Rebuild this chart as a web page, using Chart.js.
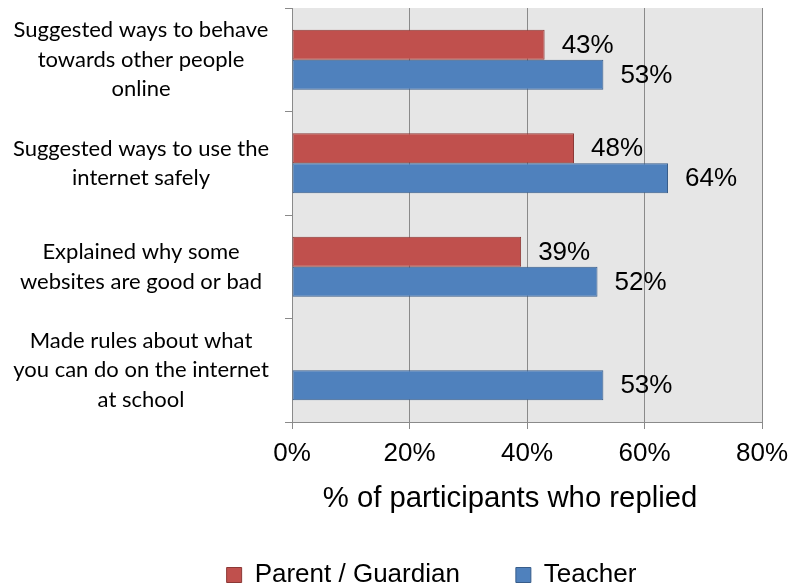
<!DOCTYPE html>
<html>
<head>
<meta charset="utf-8">
<script src="https://cdn.jsdelivr.net/npm/chart.js@4/dist/chart.umd.min.js"></script>
<style>
  html, body { margin: 0; padding: 0; background: #ffffff; }
  canvas { display: block; }
</style>
</head>
<body>
<canvas id="chart" width="792" height="586"></canvas>
<script>
// ---- Data ----
const categories = [
  ["Suggested ways to behave", "towards other people", "online"],
  ["Suggested ways to use the", "internet safely"],
  ["Explained why some", "websites are good or bad"],
  ["Made rules about what", "you can do on the internet", "at school"]
];
const seriesNames = ["Parent / Guardian", "Teacher"];
const parentValues = [43, 48, 39, null];
const teacherValues = [53, 64, 52, 53];
const xTickValues = [0, 20, 40, 60, 80];

// ---- Styles ----
const GRID = '#8a8a8a';
const PLOT_BG = '#e6e6e6';
const SANS = '"Liberation Sans", Arial, sans-serif';
const CAT_FONT = 'Lato, "Open Sans", sans-serif';

// fit category label font so the widest line is about 256px wide
const mctx = document.createElement('canvas').getContext('2d');
mctx.font = '100px ' + CAT_FONT;
let widest100 = 0;
categories.forEach(lines => lines.forEach(l => { widest100 = Math.max(widest100, mctx.measureText(l).width); }));
const catSize = Math.round(100 * 256 / widest100 * 10) / 10;
const catWidest = widest100 * catSize / 100;
const Y_AXIS_RIGHT = 292, Y_TICK_LEN = 7;
const catPadding = Math.max(0, (Y_AXIS_RIGHT - 141) - Y_TICK_LEN - catWidest / 2);
const LEGEND_LEFT = 101;
const TITLE_SHIFT = -17;

const plotBackground = {
  id: 'plotBackground',
  beforeDraw(chart) {
    const {ctx, chartArea: a} = chart;
    ctx.save();
    ctx.fillStyle = PLOT_BG;
    ctx.fillRect(a.left, a.top, a.right - a.left, a.bottom - a.top);
    ctx.restore();
  }
};

// move the legend box and the x-axis title to where the reference places them
const placementTweaks = {
  id: 'placementTweaks',
  afterLayout(chart) {
    const lg = chart.legend;
    if (lg) {
      lg.left = LEGEND_LEFT;
      lg.width = lg.right - lg.left;
    }
    const sx = chart.scales.x;
    if (sx && !sx._titlePatched) {
      const orig = sx.drawTitle;
      sx.drawTitle = function () {
        const ctx = this.ctx;
        ctx.save();
        ctx.translate(TITLE_SHIFT, 0);
        orig.call(this);
        ctx.restore();
      };
      sx._titlePatched = true;
    }
  }
};

const valueLabels = {
  id: 'valueLabels',
  afterDatasetsDraw(chart) {
    const {ctx} = chart;
    ctx.save();
    ctx.font = '26px ' + SANS;
    ctx.fillStyle = '#000000';
    ctx.textAlign = 'left';
    ctx.textBaseline = 'middle';
    chart.data.datasets.forEach((ds, di) => {
      const meta = chart.getDatasetMeta(di);
      meta.data.forEach((el, i) => {
        const v = ds.data[i];
        if (v === null || v === undefined) return;
        ctx.fillText(v + '%', el.x + 17, el.y + 1);
      });
    });
    ctx.restore();
  }
};

new Chart(document.getElementById('chart'), {
  type: 'bar',
  data: {
    labels: categories,
    datasets: [
      {
        label: seriesNames[0],
        data: parentValues,
        backgroundColor: '#c0504d',
        borderColor: '#8c3836',
        borderWidth: 1,
        borderSkipped: false
      },
      {
        label: seriesNames[1],
        data: teacherValues,
        backgroundColor: '#4f81bd',
        borderColor: '#385d8a',
        borderWidth: 1,
        borderSkipped: false
      }
    ]
  },
  options: {
    indexAxis: 'y',
    responsive: false,
    animation: false,
    devicePixelRatio: 1,
    categoryPercentage: 0.58,
    barPercentage: 1.0,
    layout: { padding: { left: 0, right: 30, top: 8, bottom: 0 } },
    plugins: {
      tooltip: { enabled: false },
      legend: {
        position: 'bottom',
        maxHeight: 80,
        labels: {
          color: '#000000',
          font: { family: SANS, size: 26 },
          boxWidth: 15,
          boxHeight: 15,
          padding: 56
        }
      }
    },
    scales: {
      x: {
        min: 0,
        max: 80,
        afterBuildTicks(scale) {
          scale.ticks = xTickValues.map(v => ({ value: v }));
        },
        afterFit(scale) {
          scale.height = 84;
          scale.paddingLeft = 0;
          scale.paddingRight = 0;
        },
        ticks: {
          color: '#000000',
          font: { family: SANS, size: 26 },
          padding: 9,
          maxRotation: 0,
          callback: v => v + '%'
        },
        grid: {
          color: GRID,
          lineWidth: 1,
          drawOnChartArea: true,
          drawTicks: true,
          tickLength: 7
        },
        border: { color: GRID, width: 1 },
        title: {
          display: true,
          text: '% of participants who replied',
          color: '#000000',
          font: { family: SANS, size: 29.3 },
          padding: { top: 0, bottom: -10 }
        }
      },
      y: {
        afterFit(scale) {
          scale.width = Y_AXIS_RIGHT;
          scale.paddingTop = 0;
          scale.paddingBottom = 0;
        },
        ticks: {
          color: '#000000',
          font: { family: CAT_FONT, size: catSize, lineHeight: '29.5px' },
          crossAlign: 'center',
          padding: catPadding,
          autoSkip: false
        },
        grid: {
          offset: true,
          color: GRID,
          drawOnChartArea: false,
          drawTicks: true,
          tickLength: Y_TICK_LEN
        },
        border: { color: GRID, width: 1 }
      }
    }
  },
  plugins: [plotBackground, placementTweaks, valueLabels]
});
</script>
</body>
</html>
